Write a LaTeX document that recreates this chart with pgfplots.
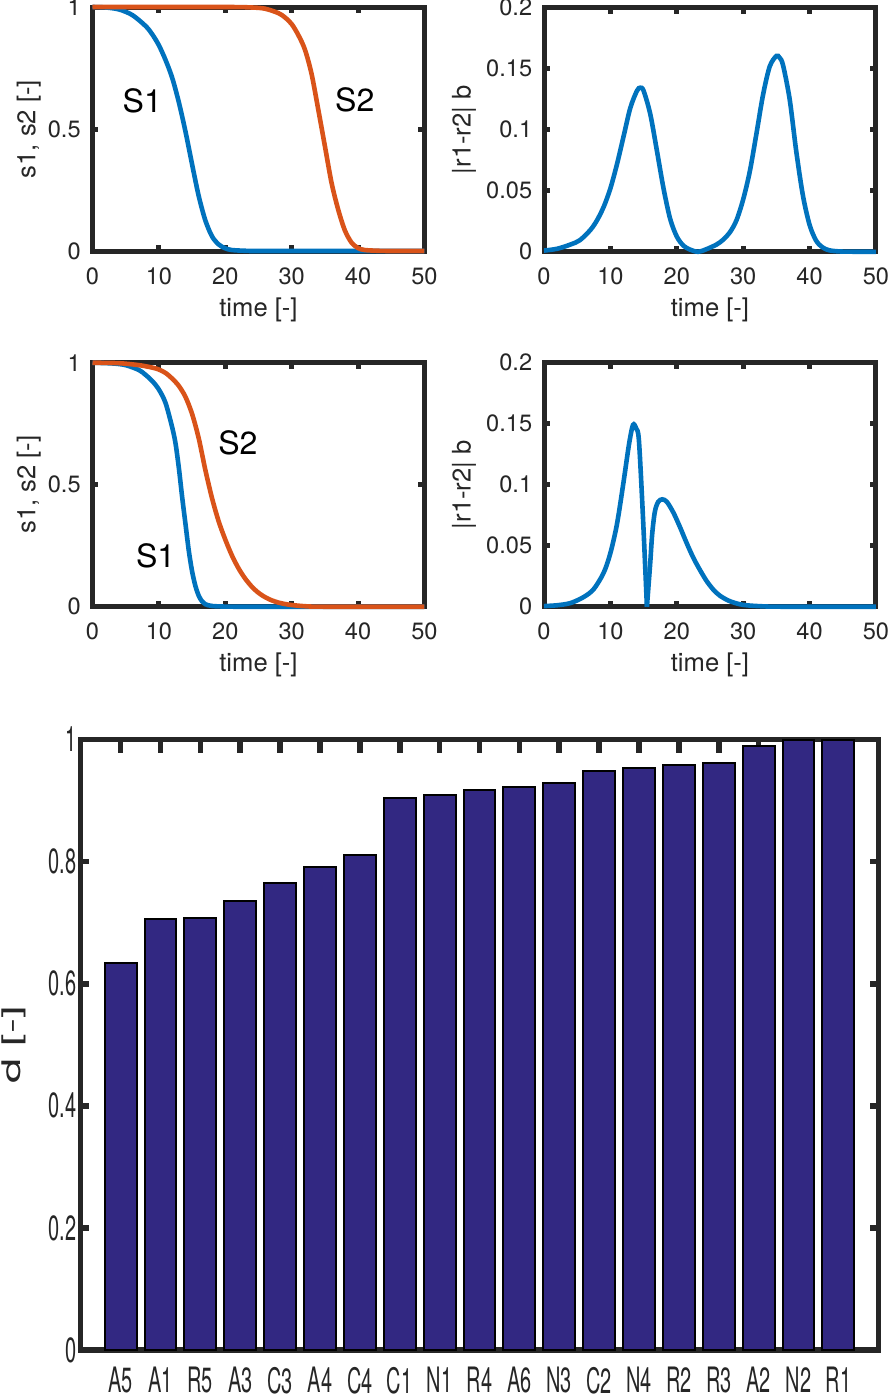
\documentclass[border=0pt]{standalone}
\usepackage{fontspec}
\setmainfont{TeX Gyre Heros}
\usepackage{graphicx}
\usepackage{pgfplots}
\pgfplotsset{compat=1.18}
\definecolor{mblue}{rgb}{0,0.447,0.741}
\definecolor{morange}{rgb}{0.85,0.325,0.098}
\definecolor{axgray}{RGB}{38,38,38}
\definecolor{barfill}{RGB}{50,40,130}
\newcommand\sq[1]{\scalebox{0.57}[1]{#1}}
\pgfplotsset{
  small/.style={
    scale only axis, width=166pt, height=122pt,
    xmin=0, xmax=50, xtick={0,10,20,30,40,50},
    axis line style={axgray, line width=2.5pt},
    tick style={axgray, line width=2.5pt},
    major tick length=3pt, tick align=inside,
    tick label style={font=\fontsize{11.8}{12}\selectfont, text=axgray},
    label style={font=\fontsize{12.8}{13}\selectfont, text=axgray},
    xlabel={time [-]},
    xlabel style={at={(axis description cs:0.5,-0.24)}, anchor=center},
    xticklabel style={yshift=-4.6pt}, yticklabel style={xshift=-2.4pt},
    clip=false,
    /pgf/number format/assume math mode=true,
  },
  sfig/.style={small, ymin=0, ymax=1, ytick={0,0.5,1}, yticklabels={0,0.5,1},
    ylabel={s1, s2 [-]},
    ylabel style={at={(axis description cs:-0.192,0.5)}, anchor=center}},
  rfig/.style={small, ymin=0, ymax=0.2, ytick={0,0.05,0.1,0.15,0.2},
    yticklabels={0,0.05,0.1,0.15,0.2},
    ylabel={|r1-r2| b},
    ylabel style={at={(axis description cs:-0.241,0.5)}, anchor=center}},
  curve/.style={line width=2.3pt, smooth, no markers},
}
\begin{document}
\begin{tikzpicture}
\useasboundingbox (0,0) rectangle (444.5pt,-699pt);

% ---------- top left ----------
\begin{axis}[sfig, at={(46.25pt,-125.5pt)}, anchor=south west]
\addplot[curve, mblue] coordinates {
(0,1) (2,0.998) (4,0.99) (6,0.967) (8,0.922) (9,0.888) (10,0.843) (11,0.783)
(12,0.71) (13,0.61) (14,0.49) (15,0.355) (16,0.225) (17,0.125) (18,0.06)
(19,0.027) (20,0.011) (21,0.004) (23,0.001) (26,0) (50,0)};
\addplot[curve, morange] coordinates {
(0,1) (20,1) (24,0.998) (26,0.993) (28,0.975) (29,0.957) (30,0.93) (31,0.885)
(32,0.825) (33,0.725) (34,0.58) (35,0.43) (36,0.28) (37,0.17) (38,0.085)
(39,0.035) (40,0.012) (41,0.004) (43,0.001) (45,0) (50,0)};
\node[font=\fontsize{16}{17}\selectfont] at (axis cs:7.5,0.616) {S1};
\node[font=\fontsize{16}{17}\selectfont] at (axis cs:39.5,0.62) {S2};
\end{axis}

% ---------- top right ----------
\begin{axis}[rfig, at={(272pt,-125.9pt)}, anchor=south west]
\addplot[curve, mblue] coordinates {
(0,0.001) (2,0.0025) (4,0.006) (5.4,0.0095) (7,0.018) (8,0.026) (9,0.037)
(10,0.052) (11,0.072) (12,0.095) (13,0.118) (14,0.132) (14.5,0.1345) (15,0.132)
(16,0.113) (17,0.083) (18,0.052) (19,0.027) (20,0.0125) (21,0.005) (22,0.0018)
(23.2,0) (24.4,0.002) (26,0.006) (27,0.010) (28,0.016) (29,0.026) (30,0.043)
(31,0.066) (32,0.097) (33,0.129) (34,0.152) (35,0.1605) (35.5,0.159) (36,0.153)
(37,0.125) (38,0.082) (39,0.046) (40,0.022) (41,0.009) (42,0.0035) (43,0.0012)
(45,0.0002) (50,0)};
\end{axis}

% ---------- middle left ----------
\begin{axis}[sfig, at={(46.25pt,-303.35pt)}, anchor=south west]
\addplot[curve, mblue] coordinates {
(0,1) (3,0.997) (5,0.99) (7,0.97) (8,0.95) (9,0.925) (10,0.89) (11,0.835)
(12,0.735) (12.5,0.67) (13,0.57) (13.5,0.45) (14,0.34) (14.5,0.23) (15,0.145)
(15.5,0.085) (16,0.045) (16.5,0.022) (17,0.01) (18,0.003) (20,0.0005) (23,0) (50,0)};
\addplot[curve, morange] coordinates {
(0,1) (4,0.998) (7,0.99) (9,0.98) (10,0.972) (11,0.958) (12,0.935) (13,0.905)
(14,0.86) (15,0.79) (16,0.69) (17,0.56) (18,0.445) (19,0.35) (20,0.275)
(21,0.21) (22,0.157) (23,0.115) (24,0.082) (25,0.057) (26,0.039) (27,0.026)
(28,0.017) (29,0.011) (30,0.007) (32,0.002) (35,0) (50,0)};
\node[font=\fontsize{16}{17}\selectfont] at (axis cs:21.9,0.67) {S2};
\node[font=\fontsize{16}{17}\selectfont] at (axis cs:9.5,0.21) {S1};
\end{axis}

% ---------- middle right ----------
\begin{axis}[rfig, at={(272pt,-303.35pt)}, anchor=south west]
\addplot[curve, mblue] coordinates {
(0,0.0005) (2,0.0012) (4,0.003) (6,0.008) (7.5,0.0145) (9,0.028) (10,0.044)
(11,0.068) (12,0.103) (12.8,0.133) (13.4,0.149) (13.9,0.146) (14.3,0.136)
(14.9,0.074) (15.5,0)};
\addplot[curve, mblue] coordinates {
(15.5,0) (16,0.036) (16.3,0.06) (16.7,0.078) (17.2,0.086) (17.8,0.088)
(18.5,0.086) (19.5,0.077) (20.5,0.065) (21.5,0.052) (22.5,0.040) (23.5,0.030)
(24.5,0.021) (25.5,0.014) (26.5,0.009) (28,0.0045) (30,0.0015) (33,0.0003)
(36,0) (50,0)};
\end{axis}

% ---------- bar chart ----------
\begin{axis}[at={(40.35pt,-675pt)}, anchor=south west,
  scale only axis, width=398.8pt, height=305.25pt,
  xmin=-1, xmax=19, ymin=0, ymax=1,
  ybar, bar width=0.8,
  xtick={0,...,18},
  xticklabels={\sq{A5},\sq{A1},\sq{R5},\sq{A3},\sq{C3},\sq{A4},\sq{C4},\sq{C1},\sq{N1},\sq{R4},\sq{A6},\sq{N3},\sq{C2},\sq{N4},\sq{R2},\sq{R3},\sq{A2},\sq{N2},\sq{R1}},
  ytick={0,0.2,0.4,0.6,0.8,1},
  yticklabels={\sq{0},\sq{0.2},\sq{0.4},\sq{0.6},\sq{0.8},\sq{1}},
  xtick pos=right, xticklabel pos=left,
  axis line style={axgray, line width=2.8pt},
  tick align=inside,
  xtick style={axgray, line width=2.8pt, /pgfplots/major tick length=6.5pt},
  ytick style={axgray, line width=2.8pt, /pgfplots/major tick length=4pt},
  tick label style={font=\fontsize{17.5}{18}\selectfont, text=axgray},
  xticklabel style={yshift=-5pt},
  yticklabel style={xshift=1.5pt},
  ylabel={\scalebox{1}[0.57]{d [-]}},
  ylabel style={at={(axis description cs:-0.0836,0.5)}, anchor=center,
    font=\fontsize{22.5}{23}\selectfont, text=axgray},
  clip=false,
  /pgf/number format/assume math mode=true,
]
\addplot[fill=barfill, draw=black, line width=1pt] coordinates {
(0,0.634) (1,0.706) (2,0.708) (3,0.735) (4,0.765) (5,0.791) (6,0.811)
(7,0.905) (8,0.909) (9,0.918) (10,0.923) (11,0.928) (12,0.948) (13,0.953)
(14,0.959) (15,0.961) (16,0.990) (17,0.999) (18,0.999)};
\end{axis}
\end{tikzpicture}
\end{document}
